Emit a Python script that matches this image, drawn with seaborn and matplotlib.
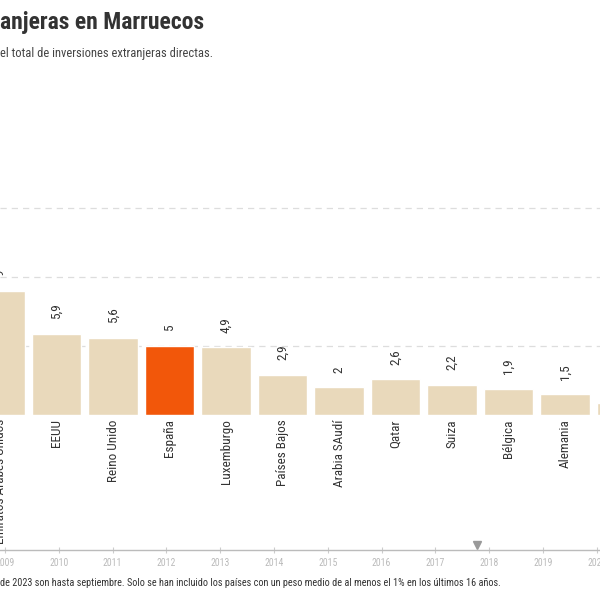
import matplotlib
matplotlib.use("Agg")
import matplotlib.pyplot as plt
import seaborn as sns

countries = [
    "Emiratos Árabes Unidos", "EEUU", "Reino Unido", "España", "Luxemburgo",
    "Países Bajos", "Arabia SAudí", "Qatar", "Suiza", "Bélgica", "Alemania", "China",
]
shares = [9.0, 5.9, 5.6, 5.0, 4.9, 2.9, 2.0, 2.6, 2.2, 1.9, 1.5, 0.9]
highlight = "España"
years = list(range(2009, 2021))
selected_year = 2017.78

title = "anjeras en Marruecos"
subtitle = "el total de inversiones extranjeras directas."
note = ("de 2023 son hasta septiembre. Solo se han incluido los países con un peso "
        "medio de al menos el 1% en los últimos 16 años.")

BEIGE = "#E9D9BB"
ORANGE = "#F2570A"

sns.set_theme(style="white")
plt.rcParams["font.family"] = ["Roboto Condensed", "Liberation Sans Narrow", "Roboto", "DejaVu Sans"]

fig = plt.figure(figsize=(6, 6), dpi=100)
ax = fig.add_axes([0, 185 / 600, 1, 18 * 13.8 / 600])

palette = {c: (ORANGE if c == highlight else BEIGE) for c in countries}
sns.barplot(x=countries, y=shares, hue=countries, palette=palette, legend=False,
            width=0.88, saturation=1, ax=ax)

ax.set_xticks(range(len(countries)))
ax.set_xticklabels(countries, rotation=90, fontsize=9.5, color="#333333", va="top")
ax.tick_params(axis="x", length=0, pad=3)
ax.set_yticks([5, 10, 15])
ax.set_yticklabels([])
ax.tick_params(axis="y", length=0)
# the view is a crop of a wider chart: first bar half cut on the left
ax.set_xlim(-0.001, 10.62)
ax.set_ylim(0, 18)
ax.grid(axis="y", color="#DDDDDD", linestyle=(0, (5, 4)), linewidth=0.9)
ax.set_axisbelow(True)
for s in ax.spines.values():
    s.set_visible(False)

for cont in ax.containers:
    vals = cont.datavalues
    ax.bar_label(cont, labels=[f"{v:g}".replace(".", ",") for v in vals],
                 rotation=90, padding=10.5, fontsize=9.5, color="#333333")

# timeline slider
tl = fig.add_axes([0, 50 / 600, 1, 10 / 600])
tl.set_facecolor("none")
for k in ["top", "left", "right"]:
    tl.spines[k].set_visible(False)
tl.spines["bottom"].set_color("#BBBBBB")
tl.spines["bottom"].set_linewidth(1)
tl.set_yticks([])
tl.set_xticks(years)
tl.set_xticklabels([str(y) for y in years], fontsize=7, color="#BBBBBB")
tl.tick_params(axis="x", direction="inout", length=5, width=0.8, color="#CCCCCC", pad=3,
               bottom=True)
tl.plot([selected_year], [0.5], marker="v", color="#999999", markersize=6,
        linestyle="none", clip_on=False)
tl.set_xlim(2008.907, 2020.059)
tl.set_ylim(0, 1)

fig.text(0.0, 1 - 23 / 600, title, fontsize=17, fontweight="bold", color="#333333",
         ha="left", va="center")
fig.text(0.0, 1 - 53 / 600, subtitle, fontsize=9, color="#444444", ha="left", va="center")
fig.text(0.0, 1 - 583 / 600, note, fontsize=7.4, color="#333333", ha="left", va="center")

fig.savefig("out.png", dpi=100)
